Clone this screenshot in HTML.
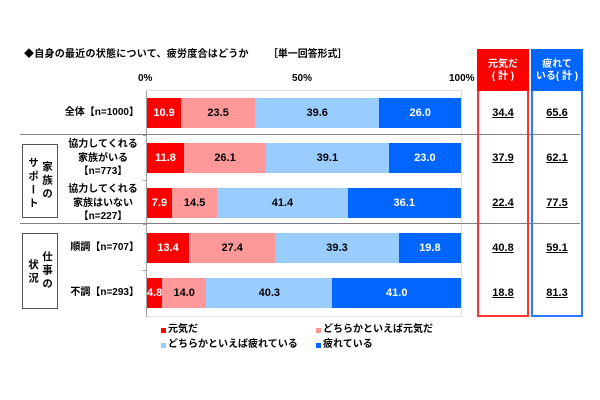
<!DOCTYPE html>
<html><head><meta charset="utf-8">
<style>
*{margin:0;padding:0;box-sizing:border-box}
body{width:600px;height:400px;background:#fff;position:relative;overflow:hidden;font-family:"Liberation Sans","Noto Sans CJK JP",sans-serif;font-weight:bold;color:#000}
.a{position:absolute;white-space:nowrap}
.t{font-size:10px;line-height:12px}
.bar{position:absolute;left:147px;width:314px;height:30px;display:flex}
.bar div{height:30px;line-height:30px;text-align:center;font-size:11px;overflow:visible;white-space:nowrap;display:flex;justify-content:center}
.r{background:#ff0000;color:#fff}
.p{background:#ff9999;color:#000}
.l{background:#99ccff;color:#000}
.b{background:#0066ff;color:#fff}
.lab{font-size:10px;line-height:13.5px;text-align:center}
.tot{position:absolute;font-size:11px;text-decoration:underline;width:50px;text-align:center;line-height:14px}
.vt{writing-mode:vertical-rl;font-size:10.5px;letter-spacing:3px;position:absolute}
.sq{position:absolute;width:5px;height:5px}
</style></head><body>
<div class="a t" style="left:24px;top:49px;letter-spacing:0.25px">◆自身の最近の状態について、疲労度合はどうか</div>
<div class="a t" style="left:268px;top:49px;letter-spacing:-0.1px">［単一回答形式］</div>

<!-- axis labels -->
<div class="a" style="left:138px;top:73px;font-size:10px">0%</div>
<div class="a" style="left:292px;top:73px;font-size:10px">50%</div>
<div class="a" style="left:449px;top:73px;font-size:10px">100%</div>

<!-- plot area -->
<div class="a" style="left:146px;top:90px;width:316px;height:227px;border:1px solid #e0e0e0;border-left:1px solid #a0a0a0"></div>
<div class="a" style="left:143px;top:135px;width:3px;height:1px;background:#a0a0a0"></div>
<div class="a" style="left:143px;top:180px;width:3px;height:1px;background:#a0a0a0"></div>
<div class="a" style="left:143px;top:224px;width:3px;height:1px;background:#a0a0a0"></div>
<div class="a" style="left:143px;top:270px;width:3px;height:1px;background:#a0a0a0"></div>

<!-- separators -->
<div class="a" style="left:20px;top:134px;width:560px;height:1px;background:#808080"></div>
<div class="a" style="left:20px;top:223px;width:560px;height:1px;background:#808080"></div>

<!-- bars -->
<div class="bar" style="top:98px"><div class="r" style="flex:10.9 0 0">10.9</div><div class="p" style="flex:23.5 0 0">23.5</div><div class="l" style="flex:39.6 0 0">39.6</div><div class="b" style="flex:26.0 0 0">26.0</div></div>
<div class="bar" style="top:143px"><div class="r" style="flex:11.8 0 0">11.8</div><div class="p" style="flex:26.1 0 0">26.1</div><div class="l" style="flex:39.1 0 0">39.1</div><div class="b" style="flex:23.0 0 0">23.0</div></div>
<div class="bar" style="top:188px"><div class="r" style="flex:7.9 0 0">7.9</div><div class="p" style="flex:14.5 0 0">14.5</div><div class="l" style="flex:41.4 0 0">41.4</div><div class="b" style="flex:36.1 0 0">36.1</div></div>
<div class="bar" style="top:233px"><div class="r" style="flex:13.4 0 0">13.4</div><div class="p" style="flex:27.4 0 0">27.4</div><div class="l" style="flex:39.3 0 0">39.3</div><div class="b" style="flex:19.8 0 0">19.8</div></div>
<div class="bar" style="top:278px"><div class="r" style="flex:4.8 0 0">4.8</div><div class="p" style="flex:14.0 0 0">14.0</div><div class="l" style="flex:40.3 0 0">40.3</div><div class="b" style="flex:41.0 0 0">41.0</div></div>

<!-- row labels -->
<div class="a lab" style="right:461px;top:106px">全体【n=1000】</div>
<div class="a lab" style="left:63px;width:80px;top:138px">協力してくれる<br>家族がいる<br>【n=773】</div>
<div class="a lab" style="left:63px;width:80px;top:183px">協力してくれる<br>家族はいない<br>【n=227】</div>
<div class="a lab" style="right:461px;top:241px">順調【n=707】</div>
<div class="a lab" style="right:461px;top:286px">不調【n=293】</div>

<!-- group boxes -->
<div class="a" style="left:22px;top:144px;width:36px;height:74px;border:1px solid #555"></div>
<div class="vt" style="left:40px;top:161px">家族の</div>
<div class="vt" style="left:26px;top:157px">サポート</div>
<div class="a" style="left:22px;top:233px;width:36px;height:76px;border:1px solid #555"></div>
<div class="vt" style="left:40px;top:251px">仕事の</div>
<div class="vt" style="left:26px;top:259px">状況</div>

<!-- total boxes -->
<div class="a" style="left:477px;top:49px;width:52px;height:268px;border:2px solid #ff3333"></div>
<div class="a" style="left:477px;top:49px;width:52px;height:42px;background:#ff0000;color:#fff;font-size:10px;line-height:12px;text-align:center;padding-top:10px">元気だ<br>( 計 )</div>
<div class="a" style="left:531px;top:49px;width:52px;height:268px;border:2px solid #2f78ff"></div>
<div class="a" style="left:531px;top:49px;width:52px;height:42px;background:#0066ff;color:#fff;font-size:10px;line-height:12px;text-align:center;padding-top:10px">疲れて<br>いる( 計 )</div>

<div class="tot" style="left:478px;top:106px">34.4</div>
<div class="tot" style="left:478px;top:151px">37.9</div>
<div class="tot" style="left:478px;top:196px">22.4</div>
<div class="tot" style="left:478px;top:241px">40.8</div>
<div class="tot" style="left:478px;top:286px">18.8</div>
<div class="tot" style="left:532px;top:106px">65.6</div>
<div class="tot" style="left:532px;top:151px">62.1</div>
<div class="tot" style="left:532px;top:196px">77.5</div>
<div class="tot" style="left:532px;top:241px">59.1</div>
<div class="tot" style="left:532px;top:286px">81.3</div>

<!-- legend -->
<div class="sq" style="left:161px;top:328px;background:#ff0000"></div>
<div class="a t" style="left:168px;top:324px">元気だ</div>
<div class="sq" style="left:316px;top:328px;background:#ff9999"></div>
<div class="a t" style="left:323px;top:324px">どちらかといえば元気だ</div>
<div class="sq" style="left:161px;top:343px;background:#99ccff"></div>
<div class="a t" style="left:168px;top:339px">どちらかといえば疲れている</div>
<div class="sq" style="left:316px;top:343px;background:#0066ff"></div>
<div class="a t" style="left:323px;top:339px">疲れている</div>
</body></html>
